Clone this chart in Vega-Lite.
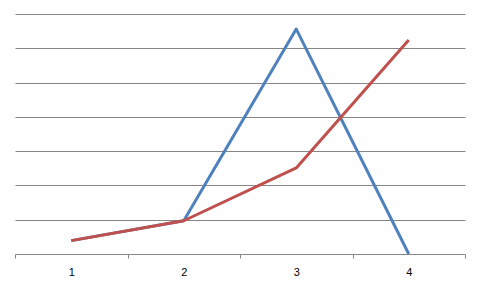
{
  "$schema": "https://vega.github.io/schema/vega-lite/v6.json",
  "width": 450,
  "height": 240,
  "autosize": {"type": "none"},
  "padding": {"left": 15, "top": 14, "right": 16, "bottom": 35},
  "background": "white",
  "config": {"view": {"stroke": null}, "font": "Liberation Sans"},
  "data": {
    "values": [
      {"x": "1", "series": "A", "v": 0.39},
      {"x": "2", "series": "A", "v": 0.97},
      {"x": "3", "series": "A", "v": 6.56},
      {"x": "4", "series": "A", "v": 0},
      {"x": "1", "series": "B", "v": 0.39},
      {"x": "2", "series": "B", "v": 0.97},
      {"x": "3", "series": "B", "v": 2.51},
      {"x": "4", "series": "B", "v": 6.24}
    ]
  },
  "mark": {"type": "line", "strokeWidth": 3, "strokeCap": "butt", "strokeJoin": "round"},
  "encoding": {
    "x": {
      "field": "x", "type": "ordinal",
      "scale": {"type": "band", "paddingInner": 0, "paddingOuter": 0},
      "axis": {
        "title": null, "labelAngle": 0, "tickBand": "extent", "grid": false,
        "domainColor": "#868686", "tickColor": "#868686", "tickSize": 4,
        "labelColor": "#000000", "labelFontSize": 11, "labelPadding": 8,
        "labelFont": "Liberation Sans"
      }
    },
    "y": {
      "field": "v", "type": "quantitative",
      "scale": {"domain": [0, 7], "nice": false, "zero": true},
      "axis": {
        "title": null, "labels": false, "ticks": false, "domain": false,
        "grid": true, "gridColor": "#868686", "gridOpacity": 1,
        "values": [1, 2, 3, 4, 5, 6, 7]
      }
    },
    "color": {
      "field": "series", "type": "nominal",
      "scale": {"domain": ["A", "B"], "range": ["#4F81BD", "#C0504D"]},
      "legend": null
    },
    "order": {"field": "x"}
  }
}
